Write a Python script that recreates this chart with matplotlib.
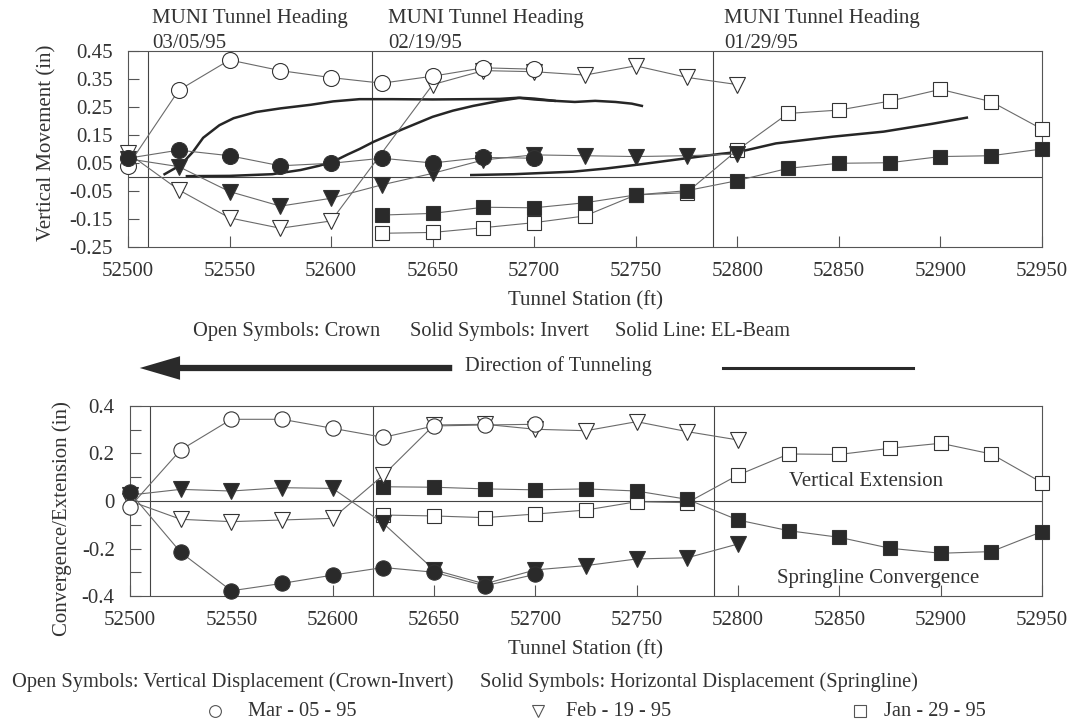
import matplotlib
matplotlib.use("Agg")
import matplotlib.pyplot as plt
from matplotlib.lines import Line2D
from matplotlib.patches import FancyArrowPatch

plt.rcParams['font.family'] = ['Liberation Serif', 'DejaVu Serif']
plt.rcParams['text.color'] = '#333333'
plt.rcParams['axes.labelcolor'] = '#333333'
plt.rcParams['xtick.color'] = '#333333'
plt.rcParams['ytick.color'] = '#333333'

# stations (ft)
st_mar = [52500, 52525, 52550, 52575, 52600, 52625, 52650, 52675, 52700]
st_feb = [52500, 52525, 52550, 52575, 52600, 52625, 52650, 52675, 52700, 52725, 52750, 52775, 52800]
st_feb_top_crown = [52500, 52525, 52550, 52575, 52600, 52650, 52675, 52700, 52725, 52750, 52775, 52800]
st_jan = [52625, 52650, 52675, 52700, 52725, 52750, 52775, 52800, 52825, 52850, 52875, 52900, 52925, 52950]

# top: vertical movement (in)
mar_crown = [0.04, 0.31, 0.418, 0.38, 0.355, 0.335, 0.36, 0.39, 0.385]
mar_invert = [0.067, 0.096, 0.076, 0.04, 0.049, 0.067, 0.05, 0.07, 0.067]
feb_crown = [0.085, -0.046, -0.146, -0.183, -0.157, 0.33, 0.38, 0.376, 0.364, 0.397, 0.356, 0.33]
feb_invert = [0.065, 0.037, -0.052, -0.104, -0.076, -0.028, 0.013, 0.061, 0.079, 0.076, 0.073, 0.076, 0.082]
jan_crown = [-0.201, -0.198, -0.181, -0.163, -0.139, -0.064, -0.056, 0.096, 0.227, 0.239, 0.271, 0.313, 0.269, 0.171]
jan_invert = [-0.136, -0.13, -0.108, -0.11, -0.092, -0.064, -0.049, -0.013, 0.031, 0.049, 0.051, 0.073, 0.076, 0.1]

# EL-Beam curves
beam_mar_x = [52518, 52526, 52532, 52537, 52545, 52552, 52563, 52575, 52590, 52601, 52614, 52630,
              52650, 52670, 52683, 52692, 52700, 52710, 52720, 52730, 52740, 52748, 52753]
beam_mar_y = [0.01, 0.043, 0.09, 0.14, 0.185, 0.21, 0.232, 0.245, 0.258, 0.27, 0.278, 0.278,
              0.277, 0.278, 0.279, 0.283, 0.277, 0.272, 0.268, 0.272, 0.268, 0.262, 0.254]
beam_feb_x = [52529, 52550, 52571, 52585, 52594, 52601, 52608, 52614, 52621, 52635, 52650, 52660,
              52670, 52683, 52693, 52700, 52710]
beam_feb_y = [0.003, 0.004, 0.01, 0.025, 0.04, 0.055, 0.08, 0.1, 0.126, 0.17, 0.215, 0.237,
              0.254, 0.272, 0.283, 0.28, 0.272]
beam_jan_x = [52669, 52690, 52719, 52735, 52752, 52775, 52791, 52801, 52819, 52847, 52872, 52896, 52913]
beam_jan_y = [0.007, 0.01, 0.019, 0.03, 0.045, 0.067, 0.082, 0.09, 0.12, 0.144, 0.162, 0.19, 0.212]

# bottom: convergence / extension (in)
mar_vert = [-0.024, 0.215, 0.344, 0.344, 0.306, 0.268, 0.316, 0.32, 0.323]
mar_horiz = [0.036, -0.216, -0.378, -0.347, -0.312, -0.28, -0.3, -0.357, -0.309]
feb_vert = [0.0, -0.077, -0.087, -0.08, -0.073, 0.109, 0.32, 0.323, 0.302, 0.296, 0.334, 0.292, 0.257]
feb_horiz = [0.025, 0.049, 0.042, 0.056, 0.053, -0.094, -0.29, -0.349, -0.29, -0.272, -0.244, -0.239, -0.181]
jan_vert = [-0.059, -0.063, -0.07, -0.055, -0.038, -0.003, -0.007, 0.109, 0.198, 0.196, 0.222, 0.243, 0.198, 0.077]
jan_horiz = [0.06, 0.058, 0.051, 0.047, 0.051, 0.042, 0.007, -0.08, -0.125, -0.153, -0.199, -0.22, -0.213, -0.129]

heading_st = [52510, 52620, 52788]
heading_l1 = ["MUNI Tunnel Heading"] * 3
heading_l2 = ["03/05/95", "02/19/95", "01/29/95"]
heading_txt_x = [152, 388, 724]

LINE = '#6a6a6a'
EDGE = '#333333'
FILL = '#2a2a2a'
FS = 15
FS_NOTE = 14.7

W, H = 1068, 723
fig = plt.figure(figsize=(W / 100, H / 100), dpi=100)
ax1 = fig.add_axes([128 / W, 1 - 247 / H, (1042 - 128) / W, (247 - 51) / H])
ax2 = fig.add_axes([130 / W, 1 - 596 / H, (1042 - 130) / W, (596 - 406) / H])


def series(ax, x, y, mk, ms, filled):
    ax.plot(x, y, color=LINE, lw=0.8, marker=mk, ms=ms,
            mfc=FILL if filled else 'white', mec=EDGE, mew=0.8, zorder=3, clip_on=False)


for ax in (ax1, ax2):
    ax.set_xlim(52500, 52950)
    ax.set_xticks(range(52500, 52951, 50))
    ax.axhline(0, color='#444444', lw=0.8, zorder=1)
    for s in heading_st:
        ax.axvline(s, color='#444444', lw=0.8, zorder=1)
    for sp in ax.spines.values():
        sp.set_color('#555555')
        sp.set_linewidth(0.8)
    ax.tick_params(direction='in', length=8, width=0.8, labelsize=FS, pad=11, color='#555555')
    ax.tick_params(which='minor', direction='in', length=8, width=0.8, color='#555555')
    ax.set_xlabel("Tunnel Station (ft)", fontsize=FS, labelpad=7)

# top chart
ax1.set_ylim(-0.25, 0.45)
ax1.set_yticks([-0.25, -0.15, -0.05, 0.05, 0.15, 0.25, 0.35, 0.45])
ax1.set_yticklabels(["-0.25", "-0.15", "-0.05", "0.05", "0.15", "0.25", "0.35", "0.45"])
ax1.set_ylabel("Vertical Movement (in)", fontsize=FS)
ax1.yaxis.set_label_coords(-0.0777, 0.533)
for bx, by in ((beam_mar_x, beam_mar_y), (beam_feb_x, beam_feb_y), (beam_jan_x, beam_jan_y)):
    ax1.plot(bx, by, color='#262626', lw=1.8, zorder=2)
series(ax1, st_jan, jan_crown, 's', 10.5, False)
series(ax1, st_jan, jan_invert, 's', 10.5, True)
series(ax1, st_feb_top_crown, feb_crown, 'v', 11, False)
series(ax1, st_feb, feb_invert, 'v', 11, True)
series(ax1, st_mar, mar_crown, 'o', 11.5, False)
series(ax1, st_mar, mar_invert, 'o', 11.5, True)

# bottom chart
ax2.set_ylim(-0.4, 0.4)
ax2.set_yticks([-0.4, -0.2, 0, 0.2, 0.4])
ax2.set_yticklabels(["-0.4", "-0.2", "0", "0.2", "0.4"])
ax2.set_yticks([-0.3, -0.1, 0.1, 0.3], minor=True)
ax2.set_ylabel("Convergence/Extension (in)", fontsize=FS)
ax2.yaxis.set_label_coords(-0.0636, 0.41)
series(ax2, st_jan, jan_vert, 's', 10.5, False)
series(ax2, st_jan, jan_horiz, 's', 10.5, True)
series(ax2, st_feb, feb_vert, 'v', 11, False)
series(ax2, st_feb, feb_horiz, 'v', 11, True)
series(ax2, st_mar, mar_vert, 'o', 11, False)
series(ax2, st_mar, mar_horiz, 'o', 11, True)
ax2.text(52863, 0.08, "Vertical Extension", ha='center', va='center', fontsize=FS)
ax2.text(52869, -0.328, "Springline Convergence", ha='center', va='center', fontsize=FS)

# headings
for tx, l1, l2 in zip(heading_txt_x, heading_l1, heading_l2):
    fig.text(tx / W, 1 - 19 / H, l1, ha='left', va='center', fontsize=FS)
    fig.text(tx / W, 1 - 43 / H, l2, ha='left', va='center', fontsize=FS)

# middle notes + direction arrow
fig.text(193 / W, 1 - 332 / H, "Open Symbols: Crown", ha='left', va='center', fontsize=FS_NOTE)
fig.text(410 / W, 1 - 332 / H, "Solid Symbols: Invert", ha='left', va='center', fontsize=FS_NOTE)
fig.text(615 / W, 1 - 332 / H, "Solid Line: EL-Beam", ha='left', va='center', fontsize=FS_NOTE)
fig.text(558 / W, 1 - 366 / H, "Direction of Tunneling", ha='center', va='center', fontsize=FS_NOTE)
fig.add_artist(FancyArrowPatch((455 / W, 1 - 368 / H), (137 / W, 1 - 368 / H),
                               transform=fig.transFigure,
                               arrowstyle='simple,head_length=2.9,head_width=1.7,tail_width=0.45',
                               mutation_scale=10, color='#2a2a2a', lw=0))
fig.add_artist(Line2D([723 / W, 913 / W], [1 - 368 / H, 1 - 368 / H], transform=fig.transFigure,
                      color='#2a2a2a', lw=2.2))

# bottom legend
fig.text(12 / W, 1 - 682 / H, "Open Symbols: Vertical Displacement (Crown-Invert)",
         ha='left', va='center', fontsize=FS_NOTE)
fig.text(480 / W, 1 - 682 / H, "Solid Symbols: Horizontal Displacement (Springline)",
         ha='left', va='center', fontsize=FS_NOTE)
leg_mk = ['o', 'v', 's']
leg_lbl = ["Mar - 05 - 95", "Feb - 19 - 95", "Jan - 29 - 95"]
leg_x = [215, 538, 860]
leg_tx = [248, 566, 884]
for mk, lbl, lx, tx in zip(leg_mk, leg_lbl, leg_x, leg_tx):
    fig.add_artist(Line2D([lx / W], [1 - 711 / H], transform=fig.transFigure, marker=mk, ms=8.5,
                          mfc='white', mec='#555555', mew=0.8, ls='none'))
    fig.text(tx / W, 1 - 711 / H, lbl, ha='left', va='center', fontsize=FS_NOTE)

fig.savefig("out.png", dpi=100)
